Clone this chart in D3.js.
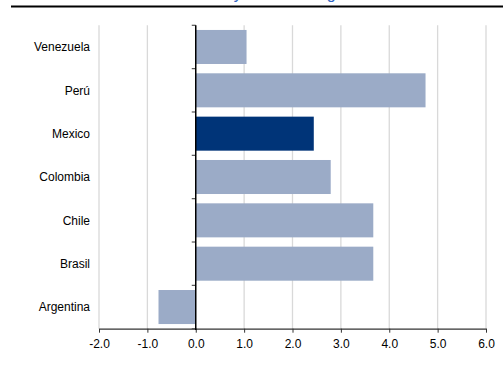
<!DOCTYPE html>
<html>
<head>
<meta charset="utf-8">
<script src="https://cdn.jsdelivr.net/npm/d3@7"></script>
<style>
  body { margin: 0; background: #fff; }
  svg { display: block; font-family: "Liberation Sans", Arial, sans-serif; }
</style>
</head>
<body>
<svg id="chart" width="503" height="378"></svg>
<script>
// data
let countries = ['Venezuela', 'Perú', 'Mexico', 'Colombia', 'Chile', 'Brasil', 'Argentina'];
let values = [1.05, 4.75, 2.44, 2.79, 3.67, 3.67, -0.77];
let highlight = ['Mexico'];
let xTicks = [-2, -1, 0, 1, 2, 3, 4, 5, 6];

let svg = d3.select('#chart');

// title (cut off at the top, only descenders show)
svg.append('text')
    .attr('x', 275)
    .attr('y', -0.8)
    .attr('text-anchor', 'middle')
    .attr('font-size', 16)
    .attr('fill', '#2E64C3')
    .text('Economy: Real GDP growth');

svg.append('line')
    .attr('x1', 11).attr('x2', 503)
    .attr('y1', 6.5).attr('y2', 6.5)
    .attr('stroke', '#000')
    .attr('stroke-width', 1.8);

let x = d3.scaleLinear().domain([-2, 6]).range([99, 486]);
let y = d3.scaleBand().domain(countries).range([25.3, 328.7]).paddingInner(0.215).paddingOuter(0.1075);

// gridlines
svg.append('g').selectAll('line')
    .data(xTicks.filter(d => d !== 0))
    .enter().append('line')
    .attr('x1', d => x(d)).attr('x2', d => x(d))
    .attr('y1', 25.3).attr('y2', 328.7)
    .attr('stroke', '#d9d9d9')
    .attr('stroke-width', 1.3);

// bars
svg.append('g').selectAll('rect')
    .data(countries)
    .enter().append('rect')
    .attr('x', (d, i) => x(Math.min(0, values[i])))
    .attr('y', d => y(d))
    .attr('width', (d, i) => Math.abs(x(values[i]) - x(0)))
    .attr('height', y.bandwidth())
    .attr('fill', d => highlight.includes(d) ? '#003478' : '#9BABC7');

// bottom axis
let xAxis = d3.axisBottom(x)
    .tickValues(xTicks)
    .tickFormat(d => d.toFixed(1))
    .tickSizeInner(4)
    .tickSizeOuter(0)
    .tickPadding(7);

let gx = svg.append('g')
    .attr('transform', 'translate(0,328.7)')
    .call(xAxis);
gx.select('.domain').attr('stroke', '#333').attr('stroke-width', 1.2);
gx.selectAll('.tick line').attr('stroke', '#333');
gx.selectAll('.tick text')
    .attr('font-size', 12)
    .attr('fill', '#000')
    .attr('font-family', '"Liberation Sans", Arial, sans-serif');

// zero axis with ticks at category boundaries
let boundaries = countries.map(d => y(d) - y.step() * y.paddingInner() / 2);
boundaries.push(328.7);
svg.append('g').selectAll('line')
    .data(boundaries)
    .enter().append('line')
    .attr('x1', x(0) - 4).attr('x2', x(0))
    .attr('y1', d => d).attr('y2', d => d)
    .attr('stroke', '#555')
    .attr('stroke-width', 1.2);

svg.append('line')
    .attr('x1', x(0)).attr('x2', x(0))
    .attr('y1', 25.3).attr('y2', 330)
    .attr('stroke', '#000')
    .attr('stroke-width', 1.5);

// category labels
svg.append('g').selectAll('text')
    .data(countries)
    .enter().append('text')
    .attr('x', 90)
    .attr('y', d => y(d) + y.bandwidth() / 2)
    .attr('dy', '0.35em')
    .attr('text-anchor', 'end')
    .attr('font-size', 12)
    .attr('fill', '#000')
    .text(d => d);
</script>
</body>
</html>
